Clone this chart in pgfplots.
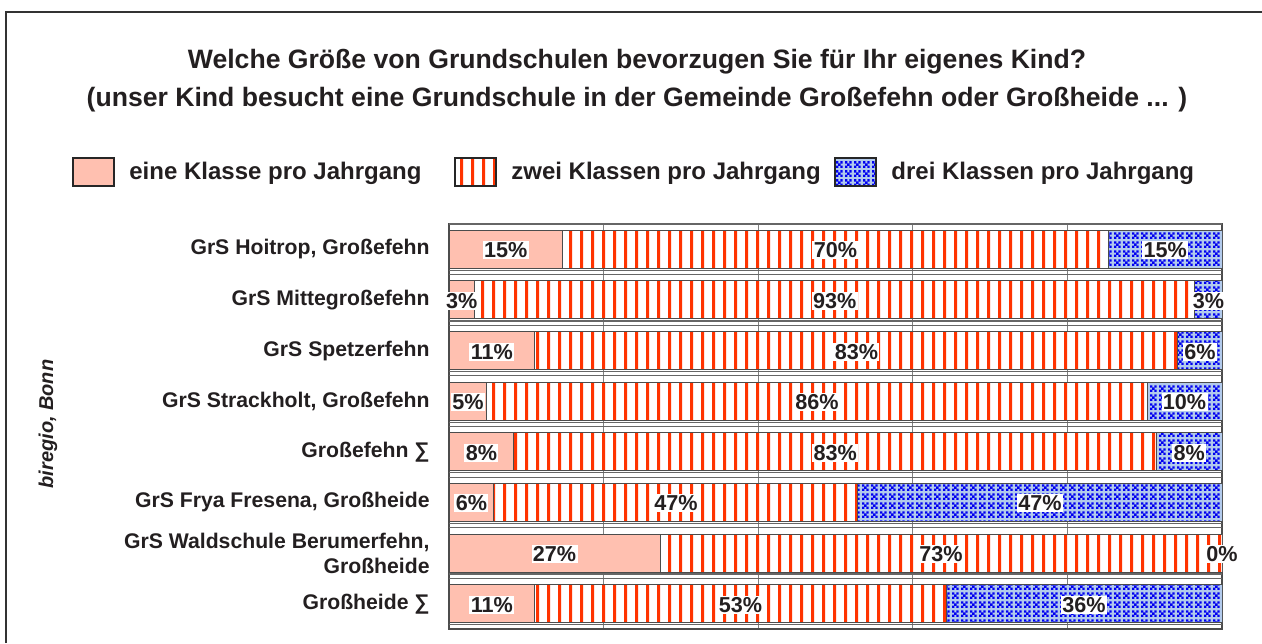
\documentclass[border=0pt]{standalone}
\usepackage{fontspec}
\setmainfont{Liberation Sans}
\usepackage{pgfplots}
\pgfplotsset{compat=1.18}
\usepackage{pgfplotstable}
\usetikzlibrary{patterns.meta}

\definecolor{salmon}{RGB}{255,192,176}
\definecolor{stripe}{RGB}{255,51,0}
\definecolor{lblue}{RGB}{178,202,236}
\definecolor{dblue}{RGB}{0,0,240}
\definecolor{txt}{RGB}{35,31,32}

\tikzdeclarepattern{
  name=vstripes,
  type=uncolored,
  bounding box={(0,0) and (5.35pt,20pt)},
  tile size={(5.35pt,20pt)},
  code={\fill (0,-1pt) rectangle (1.6pt,21pt);}
}
\tikzdeclarepattern{
  name=bluedots,
  type=uncolored,
  bounding box={(0,0) and (4.4pt,4.4pt)},
  tile size={(4.4pt,4.4pt)},
  code={
    \fill (0,0) rectangle (1.2pt,1.2pt);
    \fill (2.2pt,0) rectangle (3.4pt,1.2pt);
    \fill (0,2.2pt) rectangle (1.2pt,3.4pt);
    \fill (2.2pt,2.2pt) rectangle (3.4pt,3.4pt);
    \fill (1.1pt,1.1pt) rectangle (2.3pt,2.3pt);
  }
}

\pgfplotstableread{
row a b c la lb lc
0 14.7 70.6 14.7 15 70 15
1 3.3 93.2 3.5 3 93 3
2 11.1 83.2 5.7 11 83 6
3 4.9 85.4 9.7 5 86 10
4 8.4 83.1 8.5 8 83 8
5 5.8 47.1 47.1 6 47 47
6 27.3 72.7 0 27 73 0
7 11.1 53.2 35.7 11 53 36
}\data

\begin{document}
\begin{tikzpicture}
\useasboundingbox (0,0) rectangle (631pt,321.5pt);
\draw[line width=1pt, black!80] (3pt,0) -- (3pt,315.25pt) -- (631pt,315.25pt);
\node[font=\bfseries\fontsize{13.3}{19}\selectfont, text=txt, align=center] at (318.5pt,281pt)
  {Welche Größe von Grundschulen bevorzugen Sie für Ihr eigenes Kind?\\(unser Kind besucht eine Grundschule in der Gemeinde Großefehn oder Großheide ... )};
\node[rotate=90, font=\bfseries\itshape\fontsize{10}{12}\selectfont, text=txt] at (24pt,109.5pt) {biregio, Bonn};

\begin{axis}[
  xbar stacked,
  scale only axis, width=386.5pt, height=202.5pt,
  at={(224.5pt,7pt)}, anchor=south west,
  xmin=0, xmax=100, ymin=-0.5, ymax=7.5, y dir=reverse,
  bar width=0.75,
  xtick={0,20,40,60,80,100}, xticklabels={,,,,,}, xmajorgrids,
  ytick={0,...,7},
  yticklabels={{GrS Hoitrop, Großefehn}, GrS Mittegroßefehn, GrS Spetzerfehn, {GrS Strackholt, Großefehn}, Großefehn ∑, {GrS Frya Fresena, Großheide}, {GrS Waldschule Berumerfehn,\\Großheide}, Großheide ∑},
  major tick length=0pt,
  yticklabel style={font=\bfseries\fontsize{10.6}{12.5}\selectfont, text=txt, align=right, inner sep=0pt, xshift=-9.5pt},
  axis line style={black!70, line width=0.75pt},
  grid style={black!50, line width=0.5pt},
  extra y ticks={-0.5,0.415,0.5,1.415,1.5,2.415,2.5,3.415,3.5,4.415,4.5,5.415,5.5,6.415,6.5,7.415},
  extra y tick labels={},
  extra y tick style={grid=major, major grid style={black!60, line width=0.6pt}},
  legend columns=3,
  legend style={draw=none, fill=none, at={(-0.4877,1.1284)}, anchor=west,
    font=\bfseries\fontsize{12}{14}\selectfont, text=txt, inner sep=0pt,
    nodes={inner sep=0pt},
    /tikz/every odd column/.append style={column sep=7pt}},
  legend image code/.code={\draw[#1, draw=black!85, line width=1pt] (0pt,-7pt) rectangle (20.5pt,7pt);},
]
\addplot[fill=salmon, draw=black!70, line width=0.5pt] table[x=a, y=row] {\data};
\addlegendentry{\makebox[162.5pt][l]{eine Klasse pro Jahrgang}}
\addplot[draw=black!70, line width=0.5pt, preaction={fill=white}, pattern=vstripes, pattern color=stripe] table[x=b, y=row] {\data};
\addlegendentry{\makebox[161.5pt][l]{zwei Klassen pro Jahrgang}}
\addplot[draw=black!70, line width=0.5pt, preaction={fill=lblue}, pattern=bluedots, pattern color=dblue] table[x=c, y=row] {\data};
\addlegendentry{\makebox[160pt][l]{drei Klassen pro Jahrgang}}
\end{axis}

\begin{axis}[
  scale only axis, width=386.5pt, height=202.5pt,
  at={(224.5pt,7pt)}, anchor=south west,
  xmin=0, xmax=100, ymin=-0.5, ymax=7.5, y dir=reverse,
  hide axis, clip=false,
  nodes near coords={\pgfplotspointmeta\%},
  point meta=explicit symbolic,
  every node near coord/.style={anchor=center, yshift=-0.5pt, font=\bfseries\fontsize{10.8}{12}\selectfont, text=txt, fill=white, inner sep=0.7pt},
]
\addplot[only marks, mark=*, mark size=0pt, mark options={draw=none, fill=none}] table[x expr=\thisrow{a}/2, y=row, meta=la] {\data};
\addplot[only marks, mark=*, mark size=0pt, mark options={draw=none, fill=none}] table[x expr=\thisrow{a}+\thisrow{b}/2, y=row, meta=lb] {\data};
\addplot[only marks, mark=*, mark size=0pt, mark options={draw=none, fill=none}] table[x expr=\thisrow{a}+\thisrow{b}+\thisrow{c}/2, y=row, meta=lc] {\data};
\end{axis}
\end{tikzpicture}
\end{document}
